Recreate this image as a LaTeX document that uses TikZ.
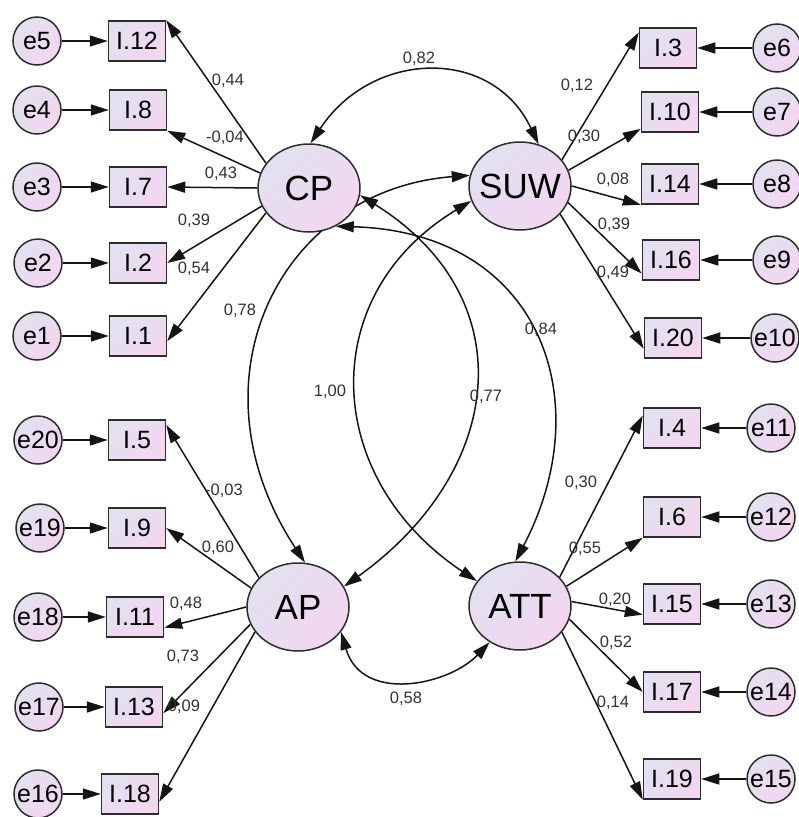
\documentclass[tikz,border=0pt]{standalone}
\usepackage{fontspec}
\setmainfont{Liberation Sans}
\usetikzlibrary{shapes.geometric,arrows.meta,backgrounds}
\definecolor{lav}{RGB}{226,225,240}
\definecolor{pnk}{RGB}{243,214,240}
\definecolor{linec}{RGB}{45,45,45}
\definecolor{arrc}{RGB}{20,20,20}
\definecolor{lblc}{RGB}{50,50,50}
\tikzset{
  fillgrad/.style={shading=axis, top color=lav, bottom color=pnk, shading angle=45},
  lat/.style={ellipse, draw=linec, line width=1.5pt, fillgrad, minimum width=102pt, minimum height=88pt, inner sep=0pt, font=\fontsize{35}{35}\selectfont},
  obs/.style={rectangle, draw=linec, line width=1.5pt, fillgrad, minimum width=57pt, minimum height=40pt, inner sep=0pt, font=\fontsize{25}{25}\selectfont},
  err/.style={circle, draw=linec, line width=1.5pt, fillgrad, minimum size=48pt, inner sep=0pt, font=\fontsize{25}{25}\selectfont},
  arr/.style={line width=1.5pt, draw=arrc, -{Triangle[length=18pt,width=11pt]}},
  cov/.style={line width=1.5pt, draw=arrc, {Triangle[length=18pt,width=11pt]}-{Triangle[length=18pt,width=11pt]}},
  lbl/.style={font=\fontsize{16.5}{16.5}\selectfont, text=lblc, inner sep=0pt}
}
\begin{document}
\begin{tikzpicture}[x=1pt,y=1pt]
\useasboundingbox (0,0) rectangle (799,-817);
% latent variables
\node[lat] (cp)  at (309,-188) {\makebox[0pt]{CP}};
\node[lat] (suw) at (520,-186) {\makebox[0pt]{SUW}};
\node[lat] (ap)  at (298,-607) {\makebox[0pt]{AP}};
\node[lat] (att) at (520,-606) {\makebox[0pt]{ATT}};
% observed, left top
\node[obs] (i12) at (137,-41)  {I.12};
\node[obs] (i8)  at (138,-110) {I.8};
\node[obs] (i7)  at (138,-187) {I.7};
\node[obs] (i2)  at (138,-263) {I.2};
\node[obs] (i1)  at (138,-336) {I.1};
% observed, left bottom
\node[obs] (i5)  at (137,-440) {I.5};
\node[obs] (i9)  at (137,-528) {I.9};
\node[obs] (i11) at (135,-617) {I.11};
\node[obs] (i13) at (134,-707) {I.13};
\node[obs] (i18) at (130,-794) {I.18};
% observed, right top
\node[obs] (i3)  at (668,-48)  {I.3};
\node[obs] (i10) at (670,-112) {I.10};
\node[obs] (i14) at (670,-184) {I.14};
\node[obs] (i16) at (671,-260) {I.16};
\node[obs] (i20) at (673,-338) {I.20};
% observed, right bottom
\node[obs] (i4)  at (672,-428) {I.4};
\node[obs] (i6)  at (672,-517) {I.6};
\node[obs] (i15) at (672,-604) {I.15};
\node[obs] (i17) at (672,-692) {I.17};
\node[obs] (i19) at (672,-779) {I.19};
% errors
\node[err] (e5)  at (37,-41)  {\makebox[0pt]{e5}};
\node[err] (e4)  at (37,-110) {\makebox[0pt]{e4}};
\node[err] (e3)  at (37,-187) {\makebox[0pt]{e3}};
\node[err] (e2)  at (38,-263) {\makebox[0pt]{e2}};
\node[err] (e1)  at (37,-336) {\makebox[0pt]{e1}};
\node[err] (e20) at (38,-440) {\makebox[0pt]{e20}};
\node[err] (e19) at (40,-528) {\makebox[0pt]{e19}};
\node[err] (e18) at (38,-617) {\makebox[0pt]{e18}};
\node[err] (e17) at (39,-707) {\makebox[0pt]{e17}};
\node[err] (e16) at (38,-794) {\makebox[0pt]{e16}};
\node[err] (e6)  at (777,-48)  {\makebox[0pt]{e6}};
\node[err] (e7)  at (777,-112) {\makebox[0pt]{e7}};
\node[err] (e8)  at (777,-184) {\makebox[0pt]{e8}};
\node[err] (e9)  at (777,-260) {\makebox[0pt]{e9}};
\node[err] (e10) at (775,-338) {\makebox[0pt]{e10}};
\node[err] (e11) at (771,-428) {\makebox[0pt]{e11}};
\node[err] (e12) at (771,-517) {\makebox[0pt]{e12}};
\node[err] (e13) at (771,-604) {\makebox[0pt]{e13}};
\node[err] (e14) at (771,-692) {\makebox[0pt]{e14}};
\node[err] (e15) at (771,-779) {\makebox[0pt]{e15}};
\begin{pgfonlayer}{background}
% error arrows
\draw[arr] (e5) -- (i12);
\draw[arr] (e4) -- (i8);
\draw[arr] (e3) -- (i7);
\draw[arr] (e2) -- (i2);
\draw[arr] (e1) -- (i1);
\draw[arr] (e20) -- (i5);
\draw[arr] (e19) -- (i9);
\draw[arr] (e18) -- (i11);
\draw[arr] (e17) -- (i13);
\draw[arr] (e16) -- (i18);
\draw[arr] (e6) -- (i3);
\draw[arr] (e7) -- (i10);
\draw[arr] (e8) -- (i14);
\draw[arr] (e9) -- (i16);
\draw[arr] (e10) -- (i20);
\draw[arr] (e11) -- (i4);
\draw[arr] (e12) -- (i6);
\draw[arr] (e13) -- (i15);
\draw[arr] (e14) -- (i17);
\draw[arr] (e15) -- (i19);
% loadings CP
\draw[arr] (cp.150) -- (i12.north east);
\draw[arr] (cp.163) -- (i8.south east);
\draw[arr] (cp.180) -- (i7.east);
\draw[arr] (cp.201) -- (i2.east);
\draw[arr] (cp.210) -- (i1.-10);
% loadings SUW
\draw[arr] (suw.32) -- (i3.152);
\draw[arr] (suw.18) -- (i10.210);
\draw[arr] (suw.0) -- (i14.south west);
\draw[arr] (suw.-19) -- (i16.205);
\draw[arr] (suw.-35) -- (i20.200);
% loadings AP
\draw[arr] (ap.143) -- (i5.27);
\draw[arr] (ap.158) -- (i9.east);
\draw[arr] (ap.180) -- (i11.-20);
\draw[arr] (ap.200) -- (i13.-12);
\draw[arr] (ap.210) -- (i18.-15);
% loadings ATT
\draw[arr] (att.36) -- (i4.157);
\draw[arr] (att.23) -- (i6.south west);
\draw[arr] (att.5) -- (i15.200);
\draw[arr] (att.-15) -- (i17.west);
\draw[arr] (att.-32) -- (i19.south west);
% covariances
\draw[cov] (cp.88) .. controls (372,-50) and (492,-46) .. (suw.66);
\draw[cov] (suw.168) .. controls (280,-190) and (185,-380) .. (ap.81);
\draw[cov] (cp.-8) .. controls (525,-298) and (505,-471) .. (ap.24);
\draw[cov] (cp.-55) .. controls (540,-232) and (600,-400) .. (att.96);
\draw[cov] (suw.197) .. controls (315,-295) and (322,-478) .. (att.150);
\draw[cov] (ap.-30) .. controls (362,-704) and (449,-685) .. (att.-130);
\end{pgfonlayer}
% labels
\node[lbl] (l1)  at (228,-81)  {0,44};
\node[lbl] (l2)  at (225,-138) {-0,04};
\node[lbl] (l3)  at (221,-174) {0,43};
\node[lbl] (l4)  at (194,-221) {0,39};
\node[lbl] (l5)  at (194,-269) {0,54};
\node[lbl] (l6)  at (240,-311) {0,78};
\node[lbl] (l7)  at (419,-59)  {0,82};
\node[lbl] (l8)  at (577,-86)  {0,12};
\node[lbl] (l9)  at (584,-137) {0,30};
\node[lbl] (l10) at (613,-180) {0,08};
\node[lbl] (l11) at (614,-225) {0,39};
\node[lbl] (l12) at (613,-273) {0,49};
\node[lbl] (l13) at (541,-330) {0,84};
\node[lbl] (l14) at (330,-392) {1,00};
\node[lbl] (l15) at (486,-397) {0,77};
\node[lbl] (l16) at (224,-491) {-0,03};
\node[lbl] (l17) at (218,-548) {0,60};
\node[lbl] (l18) at (186,-604) {0,48};
\node[lbl] (l19) at (183,-657) {0,73};
\node[lbl] (l20) at (184,-707) {0,09};
\node[lbl] (l21) at (581,-483) {0,30};
\node[lbl] (l22) at (585,-549) {0,55};
\node[lbl] (l23) at (615,-600) {0,20};
\node[lbl] (l24) at (616,-643) {0,52};
\node[lbl] (l25) at (613,-703) {0,14};
\node[lbl] (l26) at (406,-699) {0,58};
\end{tikzpicture}
\end{document}
